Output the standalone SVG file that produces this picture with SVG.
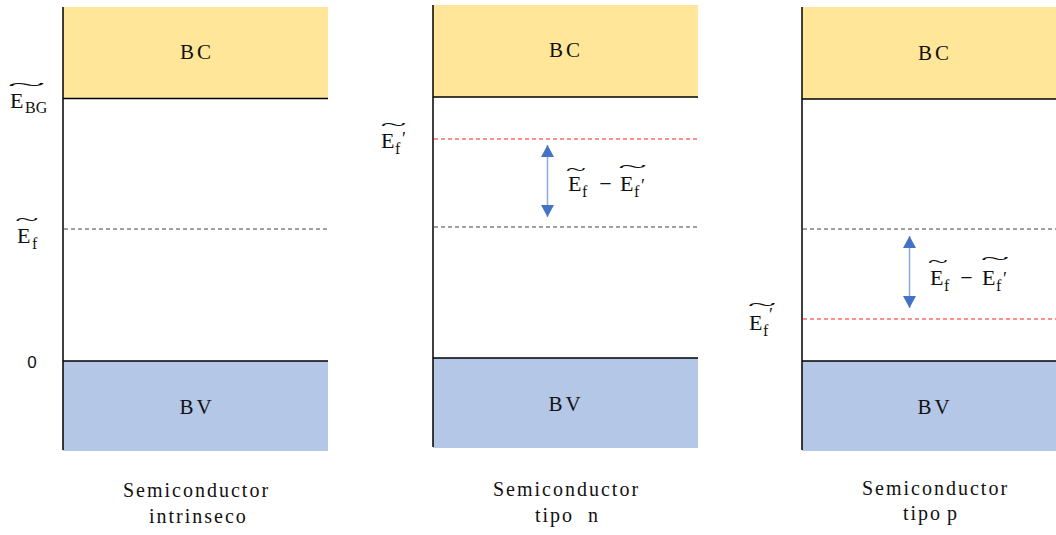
<svg xmlns="http://www.w3.org/2000/svg" width="1056" height="535" viewBox="0 0 1056 535">
<style>
.bc{fill:#FFE699}
.bv{fill:#B4C7E7}
.ax{stroke:#000;stroke-width:1.5;fill:none}
.dk{stroke:#404040;stroke-width:1;stroke-dasharray:4 3;fill:none}
.dr{stroke:#FF2020;stroke-width:1;stroke-dasharray:4 3;fill:none}
.band{font-size:21px;fill:#111;text-anchor:middle;letter-spacing:3px}
.cap{font-size:20px;fill:#111;letter-spacing:2px}
.E{font-size:22px;fill:#111}
.s{font-size:16px;fill:#111}
.pr{font-size:18px;fill:#111}
.tl{font-size:16px;fill:#111;text-anchor:middle}
.zero{font-size:17px;fill:#111;text-anchor:middle}
.arr{stroke:#8FAADC;stroke-width:1.5;fill:none}
</style>
<defs>
<marker id="ah" markerUnits="userSpaceOnUse" markerWidth="13" markerHeight="13" refX="12" refY="6.5" orient="auto-start-reverse" viewBox="0 0 13 13">
<path d="M0,0 L12,6.5 L0,13 Z" fill="#4472C4"/>
</marker>
</defs>

<g id="panel-intrinseco" font-family="Liberation Serif, DejaVu Serif, serif">
<rect class="bc" x="63" y="7" width="265" height="91"/>
<rect class="bv" x="63" y="361" width="265" height="90"/>
<line class="ax" x1="63" y1="7" x2="63" y2="450"/>
<line class="ax" x1="63" y1="98.5" x2="328" y2="98.5"/>
<line class="ax" x1="63" y1="361" x2="328" y2="361"/>
<line class="dk" x1="64" y1="229" x2="328" y2="229"/>
<text class="band" x="197" y="59">BC</text>
<text class="band" x="197" y="414">BV</text>
<text class="E" x="10" y="108">E</text><text class="s" x="25" y="113">BG</text>
<text class="tl" transform="translate(26.5,90.3) scale(4.4,1)">~</text>
<text class="E" x="17" y="243">E</text><text class="s" x="32" y="249">f</text>
<text class="tl" transform="translate(27,225.3) scale(2.7,1)">~</text>
<text class="zero" x="32" y="368" font-family="Liberation Sans, sans-serif">0</text>
<text class="cap" x="123" y="497">Semiconductor</text>
<text class="cap" x="149" y="523">intrinseco</text>
</g>

<g id="panel-tipo-n" font-family="Liberation Serif, DejaVu Serif, serif">
<rect class="bc" x="433" y="5" width="265" height="92"/>
<rect class="bv" x="433" y="358" width="265" height="90"/>
<line class="ax" x1="433" y1="5" x2="433" y2="447"/>
<line class="ax" x1="433" y1="97" x2="698" y2="97"/>
<line class="ax" x1="433" y1="358" x2="698" y2="358"/>
<line class="dr" x1="434" y1="139" x2="698" y2="139"/>
<line class="dk" x1="434" y1="227" x2="698" y2="227"/>
<text class="band" x="566" y="57">BC</text>
<text class="band" x="566" y="411">BV</text>
<text class="E" x="381" y="148">E</text><text class="s" x="395" y="154">f</text><text class="pr" x="402" y="145">′</text>
<text class="tl" transform="translate(393.5,129.8) scale(3,1)">~</text>
<text class="E" x="568" y="191">E</text><text class="s" x="582" y="197">f</text>
<text class="tl" transform="translate(576,175.3) scale(2.3,1)">~</text>
<text class="E" x="605.5" y="191" text-anchor="middle">−</text>
<text class="E" x="620" y="191">E</text><text class="s" x="634" y="197">f</text><text class="pr" x="641" y="192">′</text>
<text class="tl" transform="translate(632.5,172.3) scale(3.3,1)">~</text>
<text class="cap" x="493" y="496">Semiconductor</text>
<text class="cap" x="535" y="522">tipo</text><text class="cap" x="588" y="522">n</text>
</g>

<g id="panel-tipo-p" font-family="Liberation Serif, DejaVu Serif, serif">
<rect class="bc" x="802" y="7" width="254" height="92"/>
<rect class="bv" x="802" y="361" width="254" height="90"/>
<line class="ax" x1="802" y1="7" x2="802" y2="450"/>
<line class="ax" x1="802" y1="99" x2="1056" y2="99"/>
<line class="ax" x1="802" y1="361" x2="1056" y2="361"/>
<line class="dk" x1="803" y1="229" x2="1056" y2="229"/>
<line class="dr" x1="803" y1="319" x2="1056" y2="319"/>
<text class="band" x="935" y="60">BC</text>
<text class="band" x="935" y="414">BV</text>
<text class="E" x="749" y="330">E</text><text class="s" x="763" y="336">f</text><text class="pr" x="769" y="321">′</text>
<text class="tl" transform="translate(762,310.3) scale(3.3,1)">~</text>
<text class="E" x="930" y="285">E</text><text class="s" x="944" y="291">f</text>
<text class="tl" transform="translate(938,267.3) scale(2.3,1)">~</text>
<text class="E" x="966.5" y="285" text-anchor="middle">−</text>
<text class="E" x="982" y="285">E</text><text class="s" x="996" y="291">f</text><text class="pr" x="1003" y="285">′</text>
<text class="tl" transform="translate(995,264.3) scale(3.3,1)">~</text>
<text class="cap" x="862" y="495">Semiconductor</text>
<text class="cap" x="903" y="520">tipo</text><text class="cap" x="947" y="520">p</text>
</g>

<g id="connectors">
<line class="arr" x1="547.5" y1="145" x2="547.5" y2="217" marker-start="url(#ah)" marker-end="url(#ah)"/>
<line class="arr" x1="909.5" y1="236" x2="909.5" y2="308" marker-start="url(#ah)" marker-end="url(#ah)"/>
</g>
</svg>
